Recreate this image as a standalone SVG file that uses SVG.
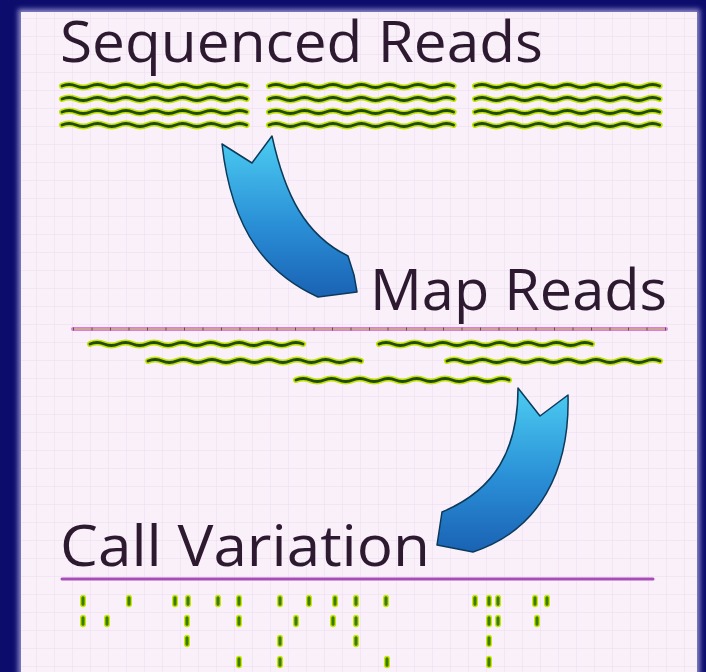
<svg xmlns="http://www.w3.org/2000/svg" xmlns:xlink="http://www.w3.org/1999/xlink" width="706" height="672" viewBox="0 0 706 672">
  <style>
    .title { font-family: "Open Sans", "Noto Sans", "DejaVu Sans", sans-serif; font-size: 56px; fill: #2e1a30; }
    .glow { fill: none; stroke: #c4e400; stroke-width: 6; stroke-linecap: round; }
    .read { fill: none; stroke: #1f4a12; stroke-width: 2.8; stroke-linecap: round; }
    .snp { fill: #3c7a14; stroke: #c8e800; stroke-width: 1.4; }
    .arrow { stroke: #0c3a5a; stroke-width: 1.5; stroke-linejoin: round; }
  </style>
  <defs>
    <pattern id="grid" width="18" height="18" patternUnits="userSpaceOnUse">
      <path d="M 18 0 L 0 0 0 18" fill="none" stroke="#ecdcee" stroke-width="1"/>
    </pattern>
    <linearGradient id="blue" x1="0" y1="0" x2="0" y2="1">
      <stop offset="0" stop-color="#4ccdf2"/>
      <stop offset="0.55" stop-color="#2a8fd6"/>
      <stop offset="1" stop-color="#1a62b4"/>
    </linearGradient>
    <filter id="soft" x="-5%" y="-5%" width="110%" height="110%">
      <feGaussianBlur stdDeviation="2.5"/>
    </filter>
    <!-- short read: 13 half-waves -->
    <path id="r13" d="M 0 0 q 7.1 -3 14.2 0 t 14.2 0 t 14.2 0 t 14.2 0 t 14.2 0 t 14.2 0 t 14.2 0 t 14.2 0 t 14.2 0 t 14.2 0 t 14.2 0 t 14.2 0 t 14.2 0"/>
    <!-- mapped read: 15 half-waves -->
    <path id="r15" d="M 0 0 q 7.1 -3 14.2 0 t 14.2 0 t 14.2 0 t 14.2 0 t 14.2 0 t 14.2 0 t 14.2 0 t 14.2 0 t 14.2 0 t 14.2 0 t 14.2 0 t 14.2 0 t 14.2 0 t 14.2 0 t 14.2 0"/>
    <g id="block">
      <use xlink:href="#r13" class="glow" y="86"/>
      <use xlink:href="#r13" class="glow" y="99"/>
      <use xlink:href="#r13" class="glow" y="112"/>
      <use xlink:href="#r13" class="glow" y="125"/>
      <use xlink:href="#r13" class="read" y="86"/>
      <use xlink:href="#r13" class="read" y="99"/>
      <use xlink:href="#r13" class="read" y="112"/>
      <use xlink:href="#r13" class="read" y="125"/>
    </g>
    <rect id="dot" x="-2.3" y="-5.5" width="4.6" height="11" rx="2.3"/>
  </defs>

  <!-- frame and panel -->
  <rect width="706" height="672" fill="#0c0c6c"/>
  <rect x="18" y="9" width="682" height="670" fill="#8a88c8" filter="url(#soft)"/>
  <rect x="21" y="12" width="676" height="660" fill="#faf0fa"/>
  <rect x="21" y="12" width="676" height="660" fill="url(#grid)"/>

  <!-- sequenced reads -->
  <g id="sequenced">
    <text class="title" x="60" y="62" textLength="483" lengthAdjust="spacingAndGlyphs">Sequenced Reads</text>
    <use xlink:href="#block" x="62"/>
    <use xlink:href="#block" x="269"/>
    <use xlink:href="#block" x="475"/>
  </g>

  <!-- mapped reads -->
  <g id="mapped">
    <text class="title" x="370" y="310" textLength="297" lengthAdjust="spacingAndGlyphs">Map Reads</text>
    <line x1="73" y1="329" x2="666" y2="329" stroke="#e07ce0" stroke-width="4" stroke-linecap="round"/>
    <line x1="73" y1="329" x2="666" y2="329" stroke="#c4b27a" stroke-width="1.5"/>
    <line x1="73" y1="329" x2="666" y2="329" stroke="#6a4a5a" stroke-width="3" stroke-dasharray="1 17.5"/>
    <g>
      <use xlink:href="#r15" class="glow" x="90" y="344"/>
      <use xlink:href="#r15" class="glow" x="379" y="344"/>
      <use xlink:href="#r15" class="glow" x="148" y="361"/>
      <use xlink:href="#r15" class="glow" x="447" y="361"/>
      <use xlink:href="#r15" class="glow" x="296" y="380"/>
      <use xlink:href="#r15" class="read" x="90" y="344"/>
      <use xlink:href="#r15" class="read" x="379" y="344"/>
      <use xlink:href="#r15" class="read" x="148" y="361"/>
      <use xlink:href="#r15" class="read" x="447" y="361"/>
      <use xlink:href="#r15" class="read" x="296" y="380"/>
    </g>
  </g>

  <!-- variant calls -->
  <g id="variation">
    <text class="title" x="60" y="566" textLength="370" lengthAdjust="spacingAndGlyphs">Call Variation</text>
    <line x1="62" y1="579" x2="653" y2="579" stroke="#a84cb8" stroke-width="3" stroke-linecap="round"/>
    <g class="snp">
      <use xlink:href="#dot" x="83" y="601"/>
      <use xlink:href="#dot" x="129" y="601"/>
      <use xlink:href="#dot" x="175" y="601"/>
      <use xlink:href="#dot" x="188" y="601"/>
      <use xlink:href="#dot" x="218" y="601"/>
      <use xlink:href="#dot" x="239" y="601"/>
      <use xlink:href="#dot" x="280" y="601"/>
      <use xlink:href="#dot" x="309" y="601"/>
      <use xlink:href="#dot" x="335" y="601"/>
      <use xlink:href="#dot" x="356" y="601"/>
      <use xlink:href="#dot" x="386" y="601"/>
      <use xlink:href="#dot" x="475" y="601"/>
      <use xlink:href="#dot" x="489" y="601"/>
      <use xlink:href="#dot" x="498" y="601"/>
      <use xlink:href="#dot" x="535" y="601"/>
      <use xlink:href="#dot" x="547" y="601"/>

      <use xlink:href="#dot" x="83" y="621"/>
      <use xlink:href="#dot" x="107" y="621"/>
      <use xlink:href="#dot" x="187" y="621"/>
      <use xlink:href="#dot" x="239" y="621"/>
      <use xlink:href="#dot" x="296" y="621"/>
      <use xlink:href="#dot" x="333" y="621"/>
      <use xlink:href="#dot" x="356" y="621"/>
      <use xlink:href="#dot" x="489" y="621"/>
      <use xlink:href="#dot" x="498" y="621"/>
      <use xlink:href="#dot" x="537" y="621"/>

      <use xlink:href="#dot" x="187" y="641"/>
      <use xlink:href="#dot" x="280" y="641"/>
      <use xlink:href="#dot" x="356" y="641"/>
      <use xlink:href="#dot" x="489" y="641"/>

      <use xlink:href="#dot" x="239" y="662"/>
      <use xlink:href="#dot" x="280" y="662"/>
      <use xlink:href="#dot" x="387" y="662"/>
      <use xlink:href="#dot" x="489" y="662"/>
    </g>
  </g>

  <!-- curved block arrows between stages -->
  <g id="connectors">
    <path class="arrow" fill="url(#blue)" d="M 222 144 L 252 163 L 272 136 C 285 195, 305 235, 348 256 L 354 275 L 357 292 L 318 297 C 270 275, 232 235, 222 144 Z"/>
    <path class="arrow" fill="url(#blue)" d="M 518 388 L 540 416 L 568 395 C 570 470, 540 530, 473 552 L 437 545 L 442 512 C 495 490, 518 450, 518 388 Z"/>
  </g>
</svg>
